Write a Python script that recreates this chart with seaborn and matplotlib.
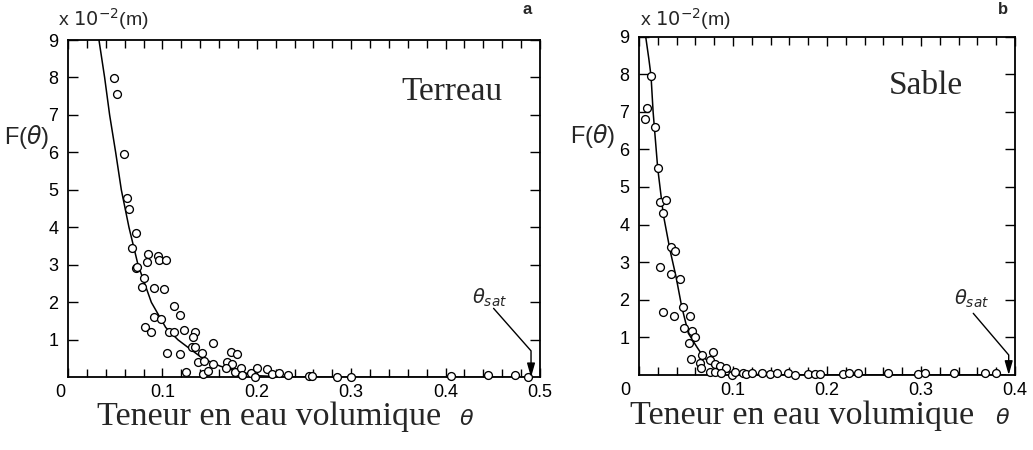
import matplotlib
matplotlib.use("Agg")
import matplotlib.pyplot as plt
from matplotlib.transforms import ScaledTranslation
import numpy as np
import pandas as pd
import seaborn as sns

# ---------------- data ----------------
# Panel a : Terreau
terreau_theta = [0.049, 0.052, 0.059, 0.062, 0.065, 0.072, 0.068, 0.085, 0.084, 0.095,
                 0.096, 0.104, 0.072, 0.073, 0.081, 0.078, 0.091, 0.102, 0.112, 0.119,
                 0.091, 0.098, 0.082, 0.088, 0.107, 0.112, 0.123, 0.135, 0.132, 0.154,
                 0.105, 0.119, 0.131, 0.135, 0.142, 0.138, 0.144, 0.154, 0.173, 0.179,
                 0.168, 0.174, 0.167, 0.177, 0.183, 0.184, 0.125, 0.143, 0.148, 0.194,
                 0.200, 0.198, 0.211, 0.216, 0.223, 0.233, 0.255, 0.258, 0.285, 0.300,
                 0.406, 0.445, 0.474, 0.487]
terreau_F = [7.99, 7.57, 5.96, 4.79, 4.48, 3.84, 3.46, 3.28, 3.08, 3.24,
             3.13, 3.12, 2.92, 2.95, 2.66, 2.41, 2.37, 2.35, 1.91, 1.66,
             1.60, 1.56, 1.33, 1.21, 1.21, 1.22, 1.25, 1.21, 1.07, 0.92,
             0.65, 0.62, 0.80, 0.80, 0.64, 0.42, 0.44, 0.35, 0.68, 0.61,
             0.42, 0.36, 0.26, 0.15, 0.24, 0.06, 0.14, 0.08, 0.17, 0.11,
             0.24, 0.02, 0.21, 0.08, 0.11, 0.06, 0.03, 0.03, 0.02, 0.01,
             0.03, 0.05, 0.07, 0.00]
terreau_fit_theta = [0.0328, 0.0388, 0.0441, 0.0505, 0.0565, 0.0646, 0.0742, 0.0883,
                     0.1035, 0.1165, 0.127, 0.143, 0.161, 0.180, 0.203, 0.230, 0.280, 0.490]
terreau_fit_F = [9.0, 8.0, 7.0, 6.0, 5.0, 4.0, 3.0, 2.0,
                 1.33, 1.0, 0.8, 0.5, 0.3, 0.15, 0.04, 0.01, 0.0, 0.0]

# Panel b : Sable
sable_theta = [0.013, 0.009, 0.006, 0.017, 0.020, 0.022, 0.029, 0.025, 0.034, 0.038,
               0.022, 0.034, 0.044, 0.047, 0.026, 0.037, 0.054, 0.048, 0.056, 0.053,
               0.060, 0.055, 0.067, 0.065, 0.066, 0.079, 0.076, 0.081, 0.075, 0.086,
               0.093, 0.081, 0.087, 0.099, 0.102, 0.111, 0.114, 0.120, 0.131, 0.139,
               0.147, 0.159, 0.166, 0.180, 0.187, 0.193, 0.217, 0.223, 0.233, 0.265,
               0.297, 0.304, 0.335, 0.368, 0.380]
sable_F = [7.95, 7.11, 6.80, 6.60, 5.51, 4.61, 4.65, 4.30, 3.39, 3.30,
           2.87, 2.69, 2.55, 1.82, 1.67, 1.57, 1.58, 1.26, 1.17, 0.86,
           1.00, 0.42, 0.53, 0.31, 0.18, 0.60, 0.40, 0.29, 0.07, 0.24,
           0.18, 0.07, 0.05, 0.00, 0.09, 0.05, 0.03, 0.06, 0.05, 0.02,
           0.05, 0.06, 0.00, 0.03, 0.03, 0.03, 0.03, 0.05, 0.05, 0.05,
           0.03, 0.06, 0.05, 0.05, 0.05]
sable_fit_theta = [0.0071, 0.0105, 0.0128, 0.0150, 0.0163, 0.0199, 0.0259, 0.033,
                   0.0395, 0.0454, 0.0525, 0.0614, 0.0684, 0.079, 0.0933, 0.111,
                   0.130, 0.200, 0.300, 0.390]
sable_fit_F = [9.0, 8.4, 7.95, 7.0, 6.6, 5.5, 4.26, 3.32,
               2.6, 1.82, 1.11, 0.75, 0.49, 0.22, 0.09, 0.03,
               0.01, 0.0, 0.0, 0.0]

xticks_a = [0, 0.1, 0.2, 0.3, 0.4, 0.5]
xlabels_a = ["0", "0.1", "0.2", "0.3", "0.4", "0.5"]
xticks_b = [0, 0.1, 0.2, 0.3, 0.4]
xlabels_b = ["0", "0.1", "0.2", "0.3", "0.4"]
yticks = [1, 2, 3, 4, 5, 6, 7, 8, 9]
ylabels = ["1", "2", "3", "4", "5", "6", "7", "8", "9"]

# ---------------- style ----------------
sns.set_theme(style="ticks")
plt.rcParams["font.family"] = ["Liberation Sans", "DejaVu Sans"]
plt.rcParams["mathtext.fontset"] = "dejavusans"

W, H = 1033, 450
fig = plt.figure(figsize=(W / 100, H / 100), dpi=100)
fig.patch.set_facecolor("white")

axA = fig.add_axes([68 / W, 1 - 377.3 / H, 472 / W, 337.3 / H])
axB = fig.add_axes([639 / W, 1 - 375 / H, 376 / W, 338.5 / H])

serif = ["Liberation Serif", "DejaVu Serif"]


def draw_panel(ax, th, F, fth, fF, xmax, xt, xl, zero_shift_px):
    sns.lineplot(x=fth, y=fF, ax=ax, color="black", linewidth=1.1,
                 sort=False, estimator=None, zorder=2)
    sns.scatterplot(x=th, y=F, ax=ax, marker="o", s=32, color="white",
                    edgecolor="black", linewidth=0.95, zorder=3, clip_on=False)
    ax.set_xlim(0, xmax)
    ax.set_ylim(0, 9)
    ax.set_xticks(xt)
    ax.set_xticklabels(xl)
    ax.set_xticks(np.arange(0, xmax + 1e-9, 0.02), minor=True)
    ax.set_yticks(yticks)
    ax.set_yticklabels(ylabels)
    ax.tick_params(which="both", direction="in", top=True, right=True,
                   bottom=True, left=True, width=1.0, color="black",
                   labelsize=13, labelcolor="black")
    ax.tick_params(axis="x", which="major", length=6.5, pad=5)
    ax.tick_params(axis="x", which="minor", length=5.5)
    ax.tick_params(axis="y", which="major", length=7, pad=7)
    for sp in ax.spines.values():
        sp.set_visible(True)
        sp.set_linewidth(1.3)
        sp.set_color("black")
    ax.set_xlabel("")
    ax.set_ylabel("")
    ax.set_facecolor("white")
    lab0 = ax.xaxis.get_major_ticks()[0].label1
    lab0.set_transform(lab0.get_transform() +
                       ScaledTranslation(zero_shift_px / 100, 0, fig.dpi_scale_trans))


draw_panel(axA, terreau_theta, terreau_F, terreau_fit_theta, terreau_fit_F,
           0.5, xticks_a, xlabels_a, -8)
draw_panel(axB, sable_theta, sable_F, sable_fit_theta, sable_fit_F,
           0.4, xticks_b, xlabels_b, -14)

# soil names
axA.text(0.813, 7.62, "Terreau", transform=axA.get_yaxis_transform(),
         family=serif, fontsize=24, ha="center", va="center")
axB.text(0.763, 7.68, "Sable", transform=axB.get_yaxis_transform(),
         family=serif, fontsize=24, ha="center", va="center")

# theta_sat annotations
arrow_kw = dict(arrowstyle="-|>,head_length=0.7,head_width=0.2", color="black",
                lw=1.0, shrinkA=0, shrinkB=0, mutation_scale=12)
axA.text(0.447, 2.11, r"$\theta_{sat}$", fontsize=14, ha="center", va="center")
axA.annotate("", xy=(0.4905, 0.0), xytext=(0.4508, 1.84),
             arrowprops=dict(connectionstyle="angle,angleA=-48.6,angleB=90,rad=0", **arrow_kw),
             annotation_clip=False)
axB.text(0.3537, 2.02, r"$\theta_{sat}$", fontsize=14, ha="center", va="center")
axB.annotate("", xy=(0.3933, 0.0), xytext=(0.3556, 1.64),
             arrowprops=dict(connectionstyle="angle,angleA=-49.6,angleB=90,rad=0", **arrow_kw),
             annotation_clip=False)

# axis titles / labels (figure text)
for xl, xt_ in [(58, "x $10^{-2}$(m)"), (640, "x $10^{-2}$(m)")]:
    fig.text(xl / W, 1 - 19 / H, xt_, fontsize=14, ha="left", va="center")
fig.text(27 / W, 1 - 137 / H, r"F($\theta$)", fontsize=17, ha="center", va="center")
fig.text(593 / W, 1 - 136 / H, r"F($\theta$)", fontsize=17, ha="center", va="center")

fig.text(527 / W, 1 - 9 / H, "a", fontsize=12, fontweight="bold", ha="center", va="center")
fig.text(1003 / W, 1 - 9 / H, "b", fontsize=12, fontweight="bold", ha="center", va="center")

fig.text(97 / W, 1 - 425 / H, "Teneur en eau volumique", family=serif, fontsize=24.5,
         ha="left", va="baseline")
fig.text(467 / W, 1 - 425 / H, r"$\theta$", fontsize=16, ha="center", va="baseline")
fig.text(630 / W, 1 - 424 / H, "Teneur en eau volumique", family=serif, fontsize=24.5,
         ha="left", va="baseline")
fig.text(1003 / W, 1 - 424 / H, r"$\theta$", fontsize=16, ha="center", va="baseline")

fig.savefig("out.png", dpi=100, facecolor="white")
